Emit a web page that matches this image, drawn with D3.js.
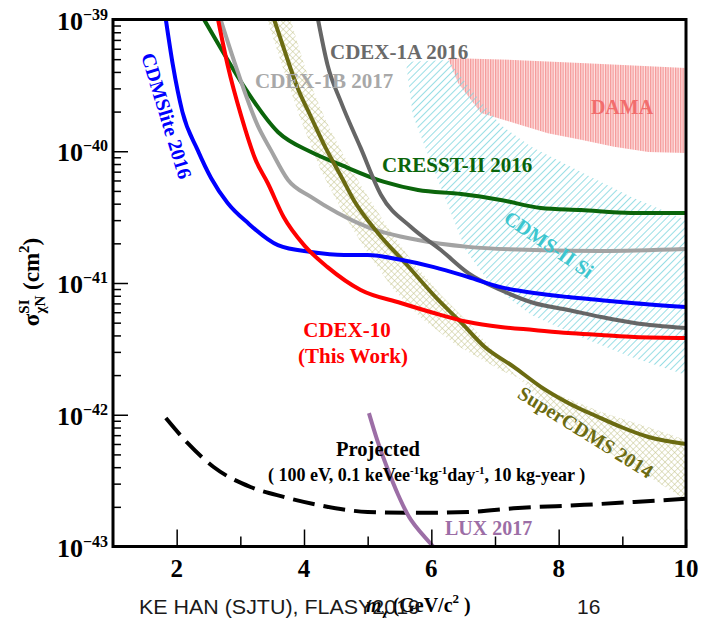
<!DOCTYPE html>
<html>
<head>
<meta charset="utf-8">
<script src="https://cdn.jsdelivr.net/npm/d3@7"></script>
<style>
  body { margin: 0; background: #fff; }
  svg text { font-family: "Liberation Serif", "Times New Roman", serif; font-weight: bold; }
  .footer { font-family: "Liberation Sans", "Open Sans", sans-serif !important; font-weight: normal !important; }
</style>
</head>
<body>
<svg id="chart" width="705" height="618"></svg>
<script>
// WIMP mass (GeV/c^2), SI cross section (cm^2)
const cdmslite2016 = [[1.83,1e-39],[1.94,4.52e-40],[2.09,1.99e-40],[2.33,1.02e-40],[2.54,6.27e-41],[2.80,4.05e-41],
  [3.12,2.85e-41],[3.59,1.94e-41],[4.11,1.72e-41],[4.63,1.63e-41],[5.0,1.63e-41],[5.52,1.50e-41],[6.04,1.32e-41],
  [6.58,1.11e-41],[7.09,9.3e-42],[7.61,8.4e-42],[8.15,7.82e-42],[8.67,7.41e-42],[9.19,7.03e-42],[10,6.58e-42]];
const cdex10 = [[2.65,1e-39],[2.80,4.52e-40],[3.01,1.88e-40],[3.24,8.6e-41],[3.43,5.74e-41],[3.68,3.17e-41],
  [4.0,1.94e-41],[4.37,1.32e-41],[4.89,8.85e-42],[5.52,7.05e-42],[6.04,5.92e-42],[6.58,5.06e-42],[7.09,4.64e-42],
  [7.61,4.40e-42],[8.15,4.17e-42],[8.67,4.03e-42],[9.19,3.89e-42],[10,3.82e-42]];
const cresst2016 = [[2.43,1e-39],[2.69,6.08e-40],[3.05,3.13e-40],[3.59,1.40e-40],[4.11,9.86e-41],[4.58,7.87e-41],
  [5.26,5.85e-41],[5.79,5.08e-41],[6.47,4.74e-41],[7.09,4.27e-41],[7.72,3.71e-41],[8.35,3.58e-41],[9.14,3.40e-41],[10,3.40e-41]];
const cdex1b2017 = [[2.69,1e-39],[2.96,4.0e-40],[3.27,1.58e-40],[3.48,1.02e-40],[3.75,6.05e-41],[4.11,4.5e-41],
  [4.53,3.40e-41],[5.0,2.66e-41],[5.79,2.12e-41],[6.58,1.88e-41],[7.61,1.78e-41],[8.67,1.75e-41],[10,1.81e-41]];
const cdex1a2016 = [[4.22,1e-39],[4.37,4.52e-40],[4.58,2.37e-40],[4.89,1.06e-40],[5.21,4.66e-41],[5.68,2.66e-41],
  [6.15,1.78e-41],[6.58,1.19e-41],[7.09,8.85e-42],[7.61,7.05e-42],[8.15,6.24e-42],[8.67,5.52e-42],[9.19,4.97e-42],[10,4.55e-42]];
const supercdms2014 = [[3.53,1e-39],[3.68,6.08e-40],[3.90,3.02e-40],[4.11,1.82e-40],[4.34,1.06e-40],[4.58,6.49e-41],
  [4.78,4.27e-41],[5.16,2.40e-41],[5.60,1.40e-41],[6.09,7.6e-42],[6.47,5.0e-42],[6.83,3.3e-42],[7.30,2.30e-42],
  [7.72,1.63e-42],[8.15,1.23e-42],[8.62,9.62e-43],[8.98,8.07e-43],[9.41,6.78e-43],[10,6.0e-43]];
const supercdmsBandUpper = [[3.42,1e-39],[3.68,4.14e-40],[3.95,1.73e-40],[4.26,7.21e-41],[4.63,3.28e-41],[4.97,1.78e-41],
  [5.41,8.85e-42],[5.84,5.42e-42],[6.39,3.38e-42],[7.09,2.18e-42],[7.88,1.49e-42],[8.67,1.05e-42],[9.45,7.93e-43],[10,6.43e-43]];
const supercdmsBandLower = [[3.79,1e-39],[3.98,4.93e-40],[4.14,2.92e-40],[4.34,1.73e-40],[4.58,1.02e-40],[4.89,5.55e-41],
  [5.29,2.75e-41],[5.68,1.50e-41],[6.15,8.11e-42],[6.62,4.80e-42],[7.09,2.61e-42],[7.72,1.29e-42],[8.35,7.02e-43],
  [8.98,4.54e-43],[9.45,3.31e-43],[10,2.25e-43]];
const projected = [[1.83,9.44e-43],[2.17,6.11e-43],[2.58,4.01e-43],[3.16,2.83e-43],[3.68,2.38e-43],[4.22,2.07e-43],
  [5.0,1.83e-43],[5.79,1.80e-43],[6.58,1.83e-43],[7.36,1.96e-43],[8.40,2.07e-43],[9.19,2.18e-43],[10,2.30e-43]];
const lux2017 = [[5.02,1.03e-42],[5.15,6.43e-43],[5.29,4.15e-43],[5.48,2.46e-43],[5.68,1.59e-43],[6.03,1e-43]];
const damaRegion = [[6.26,5.11e-40],[7.30,4.93e-40],[8.35,4.67e-40],[10,4.28e-40],[10,9.7e-41],[9.41,9.86e-41],
  [8.87,1.08e-40],[8.35,1.22e-40],[7.83,1.37e-40],[7.30,1.64e-40],[6.78,1.95e-40],[6.42,3.30e-40]];
const cdmsSiRegion = [[5.57,4.75e-40],[6.26,4.93e-40],[6.73,2.54e-40],[7.09,1.58e-40],[7.57,1.08e-40],[8.35,6.95e-41],
  [9.14,4.5e-41],[10,3.01e-41],[10,2.0e-42],[9.14,2.74e-42],[8.35,3.89e-42],[7.57,5.71e-42],[6.94,9.66e-42],
  [6.54,1.78e-41],[6.26,3.91e-41],[5.95,9.37e-41],[5.71,1.88e-40],[5.60,4.75e-40]];

const xMajorTicks = [2, 4, 6, 8, 10];
const xMinorTicks = [3, 5, 7, 9];
const yDecades = [-43, -42, -41, -40, -39];

const margin = { left: 113, right: 686, top: 19.5, bottom: 546.5 };
const svg = d3.select('#chart');

const x = d3.scaleLinear().domain([1, 10]).range([margin.left, margin.right]);
const y = d3.scaleLog().domain([1e-43, 1e-39]).range([margin.bottom, margin.top]);

// patterns
const defs = svg.append('defs');
defs.append('clipPath').attr('id', 'plotClip')
  .append('rect').attr('x', margin.left).attr('y', margin.top)
  .attr('width', margin.right - margin.left).attr('height', margin.bottom - margin.top);

const hatch = defs.append('pattern').attr('id', 'cyanHatch').attr('patternUnits', 'userSpaceOnUse')
  .attr('width', 5).attr('height', 5).attr('patternTransform', 'rotate(45)');
hatch.append('line').attr('x1', 0).attr('y1', 0).attr('x2', 0).attr('y2', 5)
  .attr('stroke', '#7fd6df').attr('stroke-width', 1.6);

const dots = defs.append('pattern').attr('id', 'damaDots').attr('patternUnits', 'userSpaceOnUse')
  .attr('width', 2.5).attr('height', 2.5);
dots.append('rect').attr('width', 2.5).attr('height', 2.5).attr('fill', '#fde3e3');
dots.append('rect').attr('width', 1.3).attr('height', 2.5).attr('fill', '#f59a9a');

const cross = defs.append('pattern').attr('id', 'oliveCross').attr('patternUnits', 'userSpaceOnUse')
  .attr('width', 4.5).attr('height', 4.5).attr('patternTransform', 'rotate(45)');
cross.append('line').attr('x1', 0).attr('y1', 0).attr('x2', 0).attr('y2', 4.5).attr('stroke', '#c4c48a').attr('stroke-width', 1);
cross.append('line').attr('x1', 0).attr('y1', 0).attr('x2', 4.5).attr('y2', 0).attr('stroke', '#c4c48a').attr('stroke-width', 1);

const plot = svg.append('g').attr('clip-path', 'url(#plotClip)');

const area = d3.line().x(d => x(d[0])).y(d => y(d[1])).curve(d3.curveLinearClosed);
const line = d3.line().x(d => x(d[0])).y(d => y(d[1])).curve(d3.curveMonotoneX);

plot.append('path').attr('d', area(damaRegion)).attr('fill', 'url(#damaDots)');
plot.append('path').attr('d', area(cdmsSiRegion)).attr('fill', 'url(#cyanHatch)');
plot.append('path').attr('d', area(supercdmsBandUpper.concat(supercdmsBandLower.slice().reverse())))
  .attr('fill', 'url(#oliveCross)');

const curves = [
  { data: cresst2016, color: '#0b650b' },
  { data: cdex1b2017, color: '#a3a3a3' },
  { data: cdex1a2016, color: '#666666' },
  { data: supercdms2014, color: '#6b6b12' },
  { data: cdmslite2016, color: '#0000ff' },
  { data: cdex10, color: '#ff0000' },
];
curves.forEach(c => {
  plot.append('path').attr('d', line(c.data)).attr('fill', 'none')
    .attr('stroke', c.color).attr('stroke-width', 4).attr('stroke-linejoin', 'round');
});

plot.append('path').attr('d', line(projected)).attr('fill', 'none')
  .attr('stroke', '#000').attr('stroke-width', 4).attr('stroke-dasharray', '22,9');
plot.append('path').attr('d', d3.line().x(d => x(d[0])).y(d => y(d[1])).curve(d3.curveCatmullRom)(lux2017))
  .attr('fill', 'none').attr('stroke', '#9c6ea6').attr('stroke-width', 4);

// axes
const yTickVals = [];
yDecades.forEach(e => {
  for (let k = 1; k < 10; k++) if (e < -39 || k === 1) yTickVals.push(k * Math.pow(10, e));
});
const yAxis = svg.append('g').attr('transform', `translate(${margin.left},0)`)
  .call(d3.axisLeft(y).tickValues(yTickVals).tickSize(0).tickFormat(''));
yAxis.select('.domain').remove();
yAxis.selectAll('.tick line')
  .attr('x2', d => Math.abs(Math.log10(d) - Math.round(Math.log10(d))) < 1e-6 ? 15 : 8)
  .attr('stroke', '#000').attr('stroke-width', 1.5);

const xAxis = svg.append('g').attr('transform', `translate(0,${margin.bottom})`)
  .call(d3.axisBottom(x).tickValues(xMajorTicks.concat(xMinorTicks)).tickSize(0).tickFormat(''));
xAxis.select('.domain').remove();
xAxis.selectAll('.tick line')
  .attr('y2', d => xMajorTicks.includes(d) ? -17 : -10)
  .attr('stroke', '#000').attr('stroke-width', 1.5);

svg.append('rect').attr('x', margin.left).attr('y', margin.top)
  .attr('width', margin.right - margin.left).attr('height', margin.bottom - margin.top)
  .attr('fill', 'none').attr('stroke', '#000').attr('stroke-width', 3);

// tick labels
yDecades.forEach(e => {
  const t = svg.append('text').attr('x', 57).attr('y', y(Math.pow(10, e)) + 10).attr('font-size', 26);
  t.append('tspan').text('10');
  t.append('tspan').attr('dy', -10).attr('font-size', 16).text('\u2212' + Math.abs(e));
});
xMajorTicks.forEach(v => {
  svg.append('text').attr('x', x(v)).attr('y', 577).attr('text-anchor', 'middle')
    .attr('font-size', 25).text(v);
});

// axis titles
const yt = svg.append('text').attr('transform', 'translate(39,282) rotate(-90)')
  .attr('text-anchor', 'middle').attr('font-size', 23);
yt.append('tspan').text('\u03c3');
yt.append('tspan').attr('font-size', 15).attr('dy', -10).text('SI');
yt.append('tspan').attr('font-size', 15).attr('dx', -14).attr('dy', 16).text('\u03c7N');
yt.append('tspan').attr('dy', -6).text(' (cm');
yt.append('tspan').attr('font-size', 15).attr('dy', -10).text('2');
yt.append('tspan').attr('dy', 10).text(')');

const xt = svg.append('text').attr('x', 366).attr('y', 612).attr('font-size', 20);
xt.append('tspan').attr('font-style', 'italic').text('m');
xt.append('tspan').attr('font-size', 13).attr('dy', 5).text('\u03c7');
xt.append('tspan').attr('dy', -5).text(' (GeV/c');
xt.append('tspan').attr('font-size', 13).attr('dy', -9).text('2');
xt.append('tspan').attr('dy', 9).text(' )');

// curve labels
const labels = [
  { t: 'CDMSlite 2016', x: 160, y: 118, r: 73, c: '#0000ff', s: 20, a: 'middle' },
  { t: 'CDEX-1A 2016', x: 330, y: 59, r: 0, c: '#6a6a6a', s: 21, a: 'start' },
  { t: 'CDEX-1B 2017', x: 255, y: 88, r: 0, c: '#a8a8a8', s: 21, a: 'start' },
  { t: 'DAMA', x: 622, y: 114, r: 0, c: '#f26d6d', s: 20, a: 'middle' },
  { t: 'CRESST-II 2016', x: 382, y: 172, r: 0, c: '#0b650b', s: 21, a: 'start' },
  { t: 'CDMS-II Si', x: 545, y: 250, r: 34, c: '#3cc6cf', s: 20, a: 'middle' },
  { t: 'CDEX-10', x: 347, y: 337, r: 0, c: '#ff0000', s: 21, a: 'middle' },
  { t: '(This Work)', x: 353, y: 363, r: 0, c: '#ff0000', s: 21, a: 'middle' },
  { t: 'SuperCDMS 2014', x: 582, y: 438, r: 32, c: '#6b6b12', s: 20, a: 'middle' },
  { t: 'Projected', x: 378, y: 456, r: 0, c: '#000', s: 20.5, a: 'middle' },
  { t: 'LUX 2017', x: 445, y: 535, r: 0, c: '#9c6ea6', s: 20, a: 'start' },
];
labels.forEach(l => {
  svg.append('text').attr('transform', `translate(${l.x},${l.y}) rotate(${l.r})`)
    .attr('text-anchor', l.a).attr('font-size', l.s).attr('fill', l.c).text(l.t);
});

const pj = svg.append('text').attr('x', 268).attr('y', 481).attr('font-size', 18);
pj.append('tspan').text('( 100 eV, 0.1 keVee');
pj.append('tspan').attr('font-size', 11).attr('dy', -7).text('-1');
pj.append('tspan').attr('dy', 7).text('kg');
pj.append('tspan').attr('font-size', 11).attr('dy', -7).text('-1');
pj.append('tspan').attr('dy', 7).text('day');
pj.append('tspan').attr('font-size', 11).attr('dy', -7).text('-1');
pj.append('tspan').attr('dy', 7).text(', 10 kg-year )');

// slide footer
svg.append('text').attr('class', 'footer').attr('x', 139).attr('y', 614).attr('font-size', 21)
  .attr('fill', '#1a1a1a').attr('textLength', 281).attr('lengthAdjust', 'spacingAndGlyphs')
  .text('KE HAN (SJTU), FLASY2019');
svg.append('text').attr('class', 'footer').attr('x', 577).attr('y', 614).attr('font-size', 21)
  .attr('fill', '#1a1a1a').text('16');
</script>
</body>
</html>
